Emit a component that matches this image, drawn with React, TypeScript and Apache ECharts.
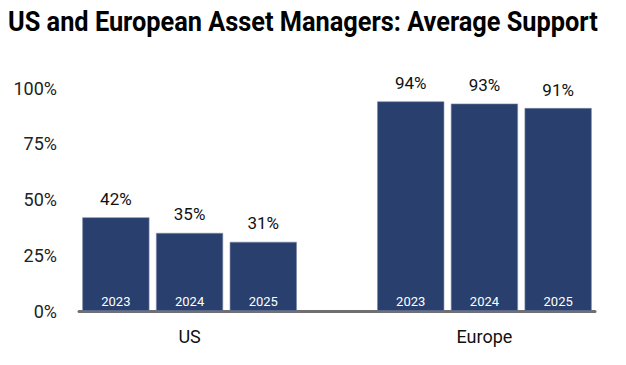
import React, { useEffect, useRef } from "react";
import * as echarts from "echarts";

const title = "US and European Asset Managers: Average Support";
const slots = ["US 2023", "US 2024", "US 2025", "", "Europe 2023", "Europe 2024", "Europe 2025"];
const yearLabels = ["2023", "2024", "2025", "", "2023", "2024", "2025"];
const groupLabels = ["", "US", "", "", "", "Europe", ""];
const supportValues = [42, 35, 31, null, 94, 93, 91];
const yTicks = [0, 25, 50, 75, 100];

const FONT = "Roboto, 'Liberation Sans', sans-serif";
const BAR = "#293f6d";

function measure(text: string, font: string) {
  const c = document.createElement("canvas").getContext("2d")!;
  c.font = font;
  return c.measureText(text).width;
}

export default function App() {
  const ref = useRef<HTMLDivElement>(null);
  useEffect(() => {
    document.body.style.margin = "0";
    const chart = echarts.init(ref.current!, null, { renderer: "svg" });
    const titleFont = "bold 28px Roboto";
    const tw = measure(title, titleFont) || 700;
    const titleScale = 590 / tw;
    chart.setOption({
      animation: false,
      backgroundColor: "#ffffff",
      graphic: [
        {
          type: "text",
          x: 8,
          y: 8,
          scaleX: titleScale,
          style: {
            text: title,
            fontFamily: "Roboto",
            fontSize: 28,
            fontWeight: "bold",
            fill: "#000",
          },
        },
      ],
      grid: { left: 79, right: 31, top: 88, bottom: 54 },
      xAxis: {
        type: "category",
        data: slots,
        axisLine: { show: true, lineStyle: { color: "#6f6f6f", width: 3 } },
        axisTick: { show: false },
        axisLabel: {
          interval: 0,
          margin: 16,
          fontFamily: FONT,
          fontSize: 18,
          color: "#111",
          formatter: (_v: string, i: number) => groupLabels[i],
        },
      },
      yAxis: {
        type: "value",
        min: yTicks[0],
        max: yTicks[yTicks.length - 1],
        interval: 25,
        splitLine: { show: false },
        axisLine: { show: false },
        axisTick: { show: false },
        axisLabel: {
          margin: 22,
          fontFamily: FONT,
          fontSize: 18,
          color: "#222",
          formatter: "{value}%",
        },
      },
      series: [
        {
          type: "bar",
          data: supportValues,
          barCategoryGap: "9%",
          itemStyle: { color: BAR, borderColor: "#7c88a6", borderWidth: 0.6 },
          label: {
            show: true,
            position: "top",
            distance: 10,
            fontFamily: FONT,
            fontSize: 17,
            color: "#111",
            formatter: (p: any) => `${p.value}%`,
          },
        },
        {
          type: "bar",
          data: supportValues,
          barGap: "-100%",
          barCategoryGap: "9%",
          itemStyle: { color: "rgba(0,0,0,0)" },
          silent: true,
          label: {
            show: true,
            position: "insideBottom",
            distance: 3,
            fontFamily: FONT,
            fontSize: 13,
            color: "#fff",
            formatter: (p: any) => yearLabels[p.dataIndex],
          },
        },
      ],
    });
    return () => chart.dispose();
  }, []);
  return <div ref={ref} style={{ width: 626, height: 365 }} />;
}
